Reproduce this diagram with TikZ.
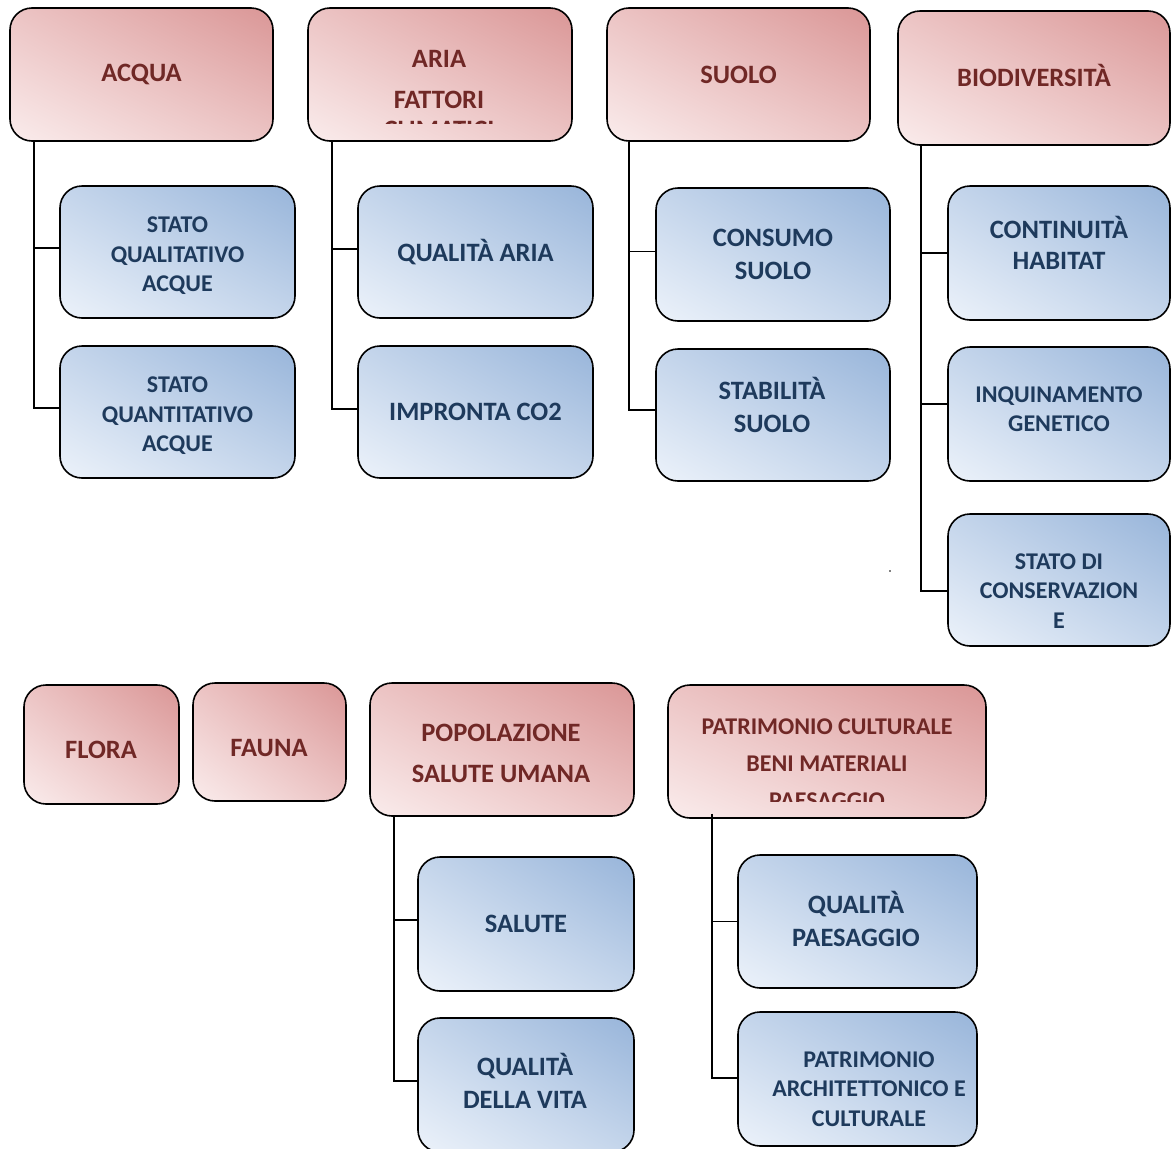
\documentclass[tikz,border=0pt]{standalone}
\usepackage{fontspec}
\setmainfont{Carlito}
\usetikzlibrary{shadings}
\definecolor{hdrdark}{RGB}{218,150,150}
\definecolor{hdrlight}{RGB}{250,236,236}
\definecolor{hdrmid}{RGB}{236,196,196}
\definecolor{hdrtext}{RGB}{112,40,38}
\definecolor{chdark}{RGB}{152,181,218}
\definecolor{chlight}{RGB}{236,242,250}
\definecolor{chmid}{RGB}{196,213,235}
\definecolor{chtext}{RGB}{30,58,92}
\tikzset{
  boxbase/.style={draw=black, line width=1.6pt, rounded corners=22pt, inner sep=0pt, align=center},
  hdr/.style={boxbase, shade, upper right=hdrdark, lower left=hdrlight, upper left=hdrmid, lower right=hdrmid,
    text=hdrtext, font=\fontsize{26.5}{41}\selectfont\bfseries},
  chl/.style={boxbase, shade, upper right=chdark, lower left=chlight, upper left=chmid, lower right=chmid,
    text=chtext, font=\fontsize{26.5}{33}\selectfont\bfseries},
  chs/.style={chl, font=\fontsize{24}{29.5}\selectfont\bfseries},
  htxt/.style={inner sep=0pt, align=center, text=hdrtext, font=\fontsize{26.5}{41}\selectfont\bfseries},
  txth/.style={inner sep=0pt, align=center, text=hdrtext, font=\fontsize{24}{37}\selectfont\bfseries},
  ctxtl/.style={inner sep=0pt, align=center, text=chtext, font=\fontsize{26.5}{33}\selectfont\bfseries},
  ctxts/.style={inner sep=0pt, align=center, text=chtext, font=\fontsize{24}{29.5}\selectfont\bfseries},
  conn/.style={draw=black, line width=1.5pt}
}
\begin{document}
\begin{tikzpicture}[x=1pt,y=-1pt]
\useasboundingbox (0,0) rectangle (1171,1149);
% ---------- top row headers
\node[hdr, minimum width=263pt, minimum height=133pt] (acqua) at (141.5,74.5) {ACQUA};
\node[hdr, minimum width=264pt, minimum height=133pt] (aria) at (440,74.5) {};
\node[htxt] (ariatxt) at (439,79) {ARIA\\FATTORI};
\begin{scope}
  \clip (320,110) rectangle (560,123);
  \node[htxt] (clim) at (439,130) {CLIMATICI};
\end{scope}
\node[hdr, minimum width=263pt, minimum height=133pt] (suolo) at (738.5,74.5) {SUOLO};
\node[hdr, minimum width=272pt, minimum height=134pt] (bio) at (1034,78) {};
\node[htxt] (biotxt) at (1034,75) {BIODIVERSITÀ};
% ---------- column 1
\node[chs, minimum width=235pt, minimum height=132pt] (sqa) at (177.5,252) {};
\node[ctxts] (sqatxt) at (177.5,256) {STATO\\QUALITATIVO\\ACQUE};
\node[chs, minimum width=235pt, minimum height=132pt] (sqn) at (177.5,412) {};
\node[ctxts] (sqntxt) at (177.5,416) {STATO\\QUANTITATIVO\\ACQUE};
% ---------- column 2
\node[chl, minimum width=235pt, minimum height=132pt] (qaria) at (475.5,252) {QUALITÀ ARIA};
\node[chl, minimum width=235pt, minimum height=132pt] (co2) at (475.5,412) {IMPRONTA CO2};
% ---------- column 3
\node[chl, minimum width=234pt, minimum height=133pt] (cons) at (773,254.5) {CONSUMO\\SUOLO};
\node[chl, minimum width=234pt, minimum height=132pt] (stab) at (773,415) {};
\node[ctxtl] (stabtxt) at (772,405) {STABILITÀ\\SUOLO};
% ---------- column 4
\node[chl, minimum width=222pt, minimum height=134pt] (cont) at (1059,253) {};
\node[ctxtl, font=\fontsize{26.5}{31}\selectfont\bfseries] (conttxt) at (1059,243) {CONTINUITÀ\\HABITAT};
\node[chs, minimum width=222pt, minimum height=134pt] (inq) at (1059,414) {};
\node[ctxts] (inqtxt) at (1059,409) {INQUINAMENTO\\GENETICO};
\node[chs, minimum width=222pt, minimum height=132pt] (cons2) at (1059,580) {};
\node[ctxts] (cons2txt) at (1059,591) {STATO DI\\CONSERVAZION\\E};
\fill[black] (890,571) circle (0.9pt);
% ---------- bottom row headers
\node[hdr, minimum width=155pt, minimum height=119pt] (flora) at (101.5,744.5) {};
\node[htxt] (floratxt) at (101,750) {FLORA};
\node[hdr, minimum width=153pt, minimum height=118pt] (fauna) at (269.5,742) {};
\node[htxt] (faunatxt) at (269,748) {FAUNA};
\node[hdr, minimum width=264pt, minimum height=133pt] (pop) at (502,749.5) {};
\node[htxt] (poptxt) at (501,753.5) {POPOLAZIONE\\SALUTE UMANA};
\node[hdr, minimum width=318pt, minimum height=133pt] (patr) at (827,751.5) {};
\begin{scope}
  \clip (680,700) rectangle (975,801);
  \node[txth] (patrtxt) at (827,764) {PATRIMONIO CULTURALE\\BENI MATERIALI\\PAESAGGIO};
\end{scope}
% ---------- bottom children
\node[chl, minimum width=216pt, minimum height=134pt] (sal) at (526,924) {SALUTE};
\node[chl, minimum width=216pt, minimum height=134pt] (qvita) at (526,1085) {};
\node[ctxtl] (qvitatxt) at (525,1081) {QUALITÀ\\DELLA VITA};
\node[chl, minimum width=239pt, minimum height=133pt] (qpae) at (857.5,921.5) {};
\node[ctxtl] (qpaetxt) at (856,918.5) {QUALITÀ\\PAESAGGIO};
\node[chs, minimum width=239pt, minimum height=134pt] (parch) at (857.5,1079) {};
\node[ctxts] (parchtxt) at (869,1089) {PATRIMONIO\\ARCHITETTONICO E\\CULTURALE};
% ---------- connectors
\draw[conn] ([xshift=25pt]acqua.south west) |- ([yshift=4pt]sqa.west);
\draw[conn] ([xshift=25pt]acqua.south west) |- ([yshift=4pt]sqn.west);
\draw[conn] ([xshift=25pt]aria.south west) |- ([yshift=3pt]qaria.west);
\draw[conn] ([xshift=25pt]aria.south west) |- ([yshift=3pt]co2.west);
\draw[conn] ([xshift=23pt]suolo.south west) |- ([yshift=3pt]cons.west);
\draw[conn] ([xshift=23pt]suolo.south west) |- ([yshift=5pt]stab.west);
\draw[conn] ([xshift=24pt]bio.south west) |- (cont.west);
\draw[conn] ([xshift=24pt]bio.south west) |- ([yshift=10pt]inq.west);
\draw[conn] ([xshift=24pt]bio.south west) |- ([yshift=-11pt]cons2.west);
\draw[conn] ([xshift=25pt]pop.south west) |- ([yshift=4pt]sal.west);
\draw[conn] ([xshift=25pt]pop.south west) |- ([yshift=4pt]qvita.west);
\draw[conn] ([xshift=45pt,yshift=5pt]patr.south west) |- (qpae.west);
\draw[conn] ([xshift=45pt,yshift=5pt]patr.south west) |- ([yshift=1pt]parch.west);
\end{tikzpicture}
\end{document}
